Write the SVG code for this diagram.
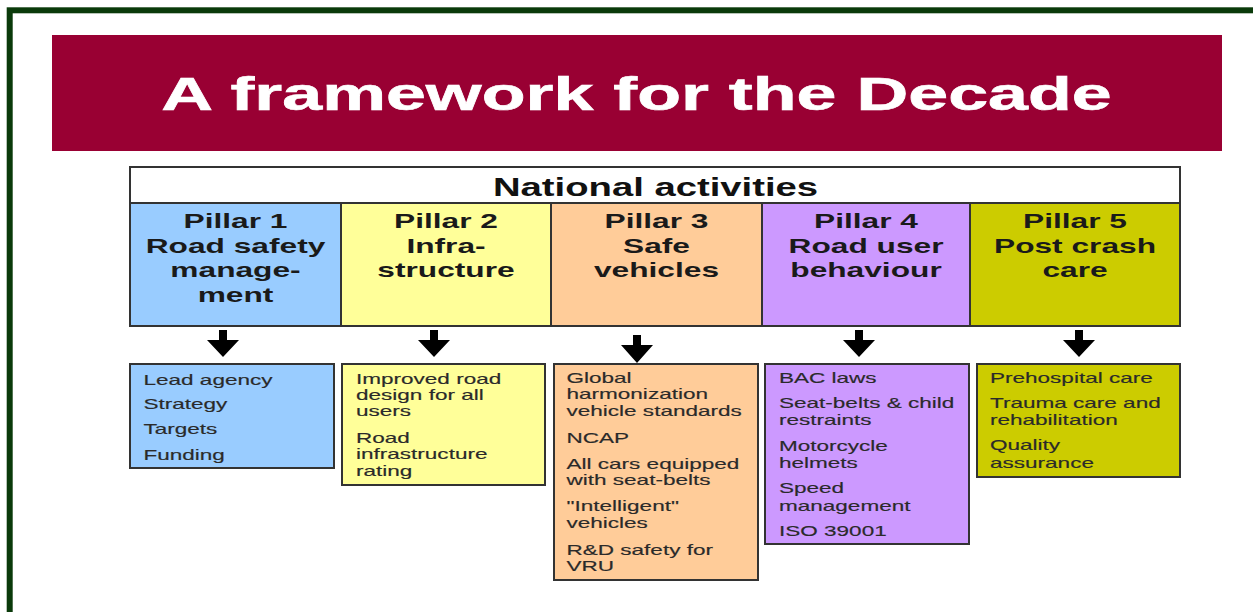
<svg xmlns="http://www.w3.org/2000/svg" width="1253" height="612" viewBox="0 0 1253 612">
<style>
.frame{fill:none;stroke:#0a3a0a;stroke-width:6}
.box{stroke:#333;stroke-width:2}
.title{font-family:"Liberation Sans",Arial,sans-serif;font-weight:bold;font-size:46px;fill:#fff;stroke:#fff;stroke-width:0.6}
.nat{font-family:"Liberation Sans",Arial,sans-serif;font-weight:bold;font-size:25px;fill:#111}
.hd{font-family:"Liberation Sans",Arial,sans-serif;font-weight:bold;font-size:21px;fill:#1a1a1a}
.it{font-family:"Liberation Sans",Arial,sans-serif;font-size:14px;fill:#2a2a2a;stroke:#2a2a2a;stroke-width:0.15}
.arr{fill:#000}
</style>
<rect width="1253" height="612" fill="#fff"/>
<rect class="frame" x="9.7" y="10.3" width="1300" height="700"/>

<g id="title">
<rect x="52" y="35" width="1170" height="116" fill="#990033"/>
<g transform="translate(636.5,0) scale(1.56,1)"><text class="title" x="0" y="110" text-anchor="middle">A framework for the Decade</text></g>
</g>

<g id="national">
<rect class="box" x="130" y="167" width="1050" height="36" fill="#fff"/>
<g transform="translate(655.5,0) scale(1.53,1)"><text class="nat" x="0" y="196" text-anchor="middle">National activities</text></g>
</g>

<g id="pillar1">
<rect class="box" x="130" y="203" width="211" height="123" fill="#99ccff"/>
<g transform="translate(235.5,0) scale(1.51,1)"><text class="hd" text-anchor="middle"><tspan x="0" y="228">Pillar 1</tspan><tspan x="0" y="253">Road safety</tspan><tspan x="0" y="277">manage-</tspan><tspan x="0" y="302">ment</tspan></text></g>
</g>
<g id="pillar2">
<rect class="box" x="341" y="203" width="210" height="123" fill="#ffff99"/>
<g transform="translate(446,0) scale(1.51,1)"><text class="hd" text-anchor="middle"><tspan x="0" y="228">Pillar 2</tspan><tspan x="0" y="253">Infra-</tspan><tspan x="0" y="277">structure</tspan></text></g>
</g>
<g id="pillar3">
<rect class="box" x="551" y="203" width="211" height="123" fill="#ffcc99"/>
<g transform="translate(656.5,0) scale(1.51,1)"><text class="hd" text-anchor="middle"><tspan x="0" y="228">Pillar 3</tspan><tspan x="0" y="253">Safe</tspan><tspan x="0" y="277">vehicles</tspan></text></g>
</g>
<g id="pillar4">
<rect class="box" x="762" y="203" width="208" height="123" fill="#cc99ff"/>
<g transform="translate(866,0) scale(1.51,1)"><text class="hd" text-anchor="middle"><tspan x="0" y="228">Pillar 4</tspan><tspan x="0" y="253">Road user</tspan><tspan x="0" y="277">behaviour</tspan></text></g>
</g>
<g id="pillar5">
<rect class="box" x="970" y="203" width="210" height="123" fill="#cccc00"/>
<g transform="translate(1075,0) scale(1.51,1)"><text class="hd" text-anchor="middle"><tspan x="0" y="228">Pillar 5</tspan><tspan x="0" y="253">Post crash</tspan><tspan x="0" y="277">care</tspan></text></g>
</g>

<g id="connectors">
<path class="arr" d="M219 330h8v10h12l-16 17l-16-17h12z"/>
<path class="arr" d="M430 330h8v10h12l-16 17l-16-17h12z"/>
<path class="arr" d="M633 335h8v10h12l-16 18l-16-18h12z"/>
<path class="arr" d="M855 330h8v10h12l-16 17l-16-17h12z"/>
<path class="arr" d="M1075 330h8v10h12l-16 17l-16-17h12z"/>
</g>

<g id="box1">
<rect class="box" x="130" y="364" width="204" height="104" fill="#99ccff"/>
<g transform="translate(143.5,0) scale(1.61,1)"><text class="it"><tspan x="0" y="385">Lead agency</tspan><tspan x="0" y="409">Strategy</tspan><tspan x="0" y="434">Targets</tspan><tspan x="0" y="460">Funding</tspan></text></g>
</g>
<g id="box2">
<rect class="box" x="342" y="364" width="203" height="121" fill="#ffff99"/>
<g transform="translate(356,0) scale(1.61,1)"><text class="it"><tspan x="0" y="384">Improved road</tspan><tspan x="0" y="400">design for all</tspan><tspan x="0" y="416">users</tspan><tspan x="0" y="443">Road</tspan><tspan x="0" y="459">infrastructure</tspan><tspan x="0" y="476">rating</tspan></text></g>
</g>
<g id="box3">
<rect class="box" x="554" y="364" width="204" height="216" fill="#ffcc99"/>
<g transform="translate(566.5,0) scale(1.61,1)"><text class="it"><tspan x="0" y="383">Global</tspan><tspan x="0" y="399.5">harmonization</tspan><tspan x="0" y="416.5">vehicle standards</tspan><tspan x="0" y="443">NCAP</tspan><tspan x="0" y="469">All cars equipped</tspan><tspan x="0" y="485">with seat-belts</tspan><tspan x="0" y="511.5">"Intelligent"</tspan><tspan x="0" y="528">vehicles</tspan><tspan x="0" y="555">R&amp;D safety for</tspan><tspan x="0" y="571.5">VRU</tspan></text></g>
</g>
<g id="box4">
<rect class="box" x="765" y="364" width="204" height="180" fill="#cc99ff"/>
<g transform="translate(779,0) scale(1.61,1)"><text class="it"><tspan x="0" y="383">BAC laws</tspan><tspan x="0" y="408">Seat-belts &amp; child</tspan><tspan x="0" y="425">restraints</tspan><tspan x="0" y="451.5">Motorcycle</tspan><tspan x="0" y="468">helmets</tspan><tspan x="0" y="493.5">Speed</tspan><tspan x="0" y="511.5">management</tspan><tspan x="0" y="536.5">ISO 39001</tspan></text></g>
</g>
<g id="box5">
<rect class="box" x="977" y="364" width="203" height="113" fill="#cccc00"/>
<g transform="translate(990,0) scale(1.61,1)"><text class="it"><tspan x="0" y="383">Prehospital care</tspan><tspan x="0" y="408">Trauma care and</tspan><tspan x="0" y="425">rehabilitation</tspan><tspan x="0" y="450">Quality</tspan><tspan x="0" y="468">assurance</tspan></text></g>
</g>
</svg>
